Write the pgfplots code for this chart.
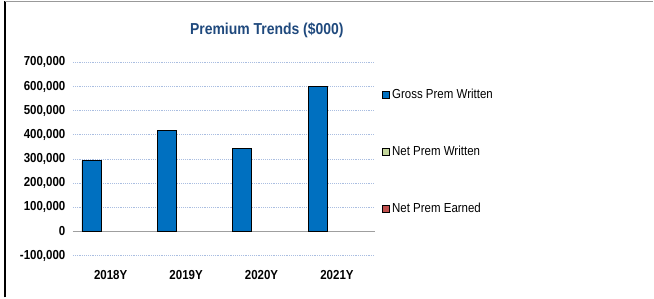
\documentclass[border=0pt]{standalone}
\usepackage{pgfplots}
\pgfplotsset{compat=1.18}
\usepackage{fontspec}
\setmainfont[FakeStretch=0.88]{Liberation Sans}
\definecolor{gross}{HTML}{0070C0}
\definecolor{netw}{HTML}{C3D69B}
\definecolor{nete}{HTML}{C0504D}
\definecolor{titleblue}{HTML}{1F497D}
\definecolor{gridblue}{RGB}{170,190,225}
\begin{document}
\begin{tikzpicture}[x=1pt,y=1pt]
\path (0,0) rectangle (490.5,222.75);
\draw[black, line width=1.1pt] (3.6,0) -- (3.6,222.75);
\draw[gray!80, line width=0.8pt] (3.6,222.4) -- (490.5,222.4);
\node[font=\fontsize{11.9}{13}\selectfont\bfseries, text=titleblue] at (200.25,200.25) {Premium Trends (\$000)};
\begin{axis}[
  at={(54.75pt,31.5pt)}, anchor=south west,
  scale only axis, width=226.5pt, height=145pt,
  xmin=-0.5, xmax=3.5, ymin=-100000, ymax=700000,
  scaled y ticks=false,
  axis line style={draw=none},
  xtick={0,1,2,3}, xticklabels={2018Y,2019Y,2020Y,2021Y},
  ytick={-100000,0,100000,200000,300000,400000,500000,600000,700000},
  yticklabels={{-100,000},{0},{100,000},{200,000},{300,000},{400,000},{500,000},{600,000},{700,000}},
  major tick length=0pt,
  ymajorgrids, grid style={gridblue, densely dotted, line width=0.6pt},
  extra y ticks={0}, extra y tick labels={},
  extra y tick style={grid style={gray!75, solid, line width=1.1pt}},
  yticklabel style={font=\fontsize{9.8}{11}\selectfont\bfseries, inner sep=0pt, anchor=east, xshift=-5.5pt},
  xticklabel style={font=\fontsize{9.8}{11}\selectfont\bfseries, inner sep=0pt, anchor=north, yshift=-11pt},
  legend style={at={(1,0.875)}, anchor=north west, xshift=5.5pt, draw=none, fill=none,
    font=\fontsize{9.8}{11}\selectfont, row sep=30pt, inner sep=0pt,
    legend cell align=left},
  legend image code/.code={\draw[#1, line width=0.6pt] (0pt,-2.6pt) rectangle (4.8pt,2.6pt);},
]
\addplot[ybar, bar width=14.25pt, bar shift=-14.4pt, fill=gross, draw=black, line width=0.6pt]
  coordinates {(0,292000) (1,419000) (2,342000) (3,601000)};
\addlegendentry{Gross Prem Written}
\addlegendimage{fill=netw, draw=black}
\addlegendentry{Net Prem Written}
\addlegendimage{fill=nete, draw=black}
\addlegendentry{Net Prem Earned}
\end{axis}
\end{tikzpicture}
\end{document}
